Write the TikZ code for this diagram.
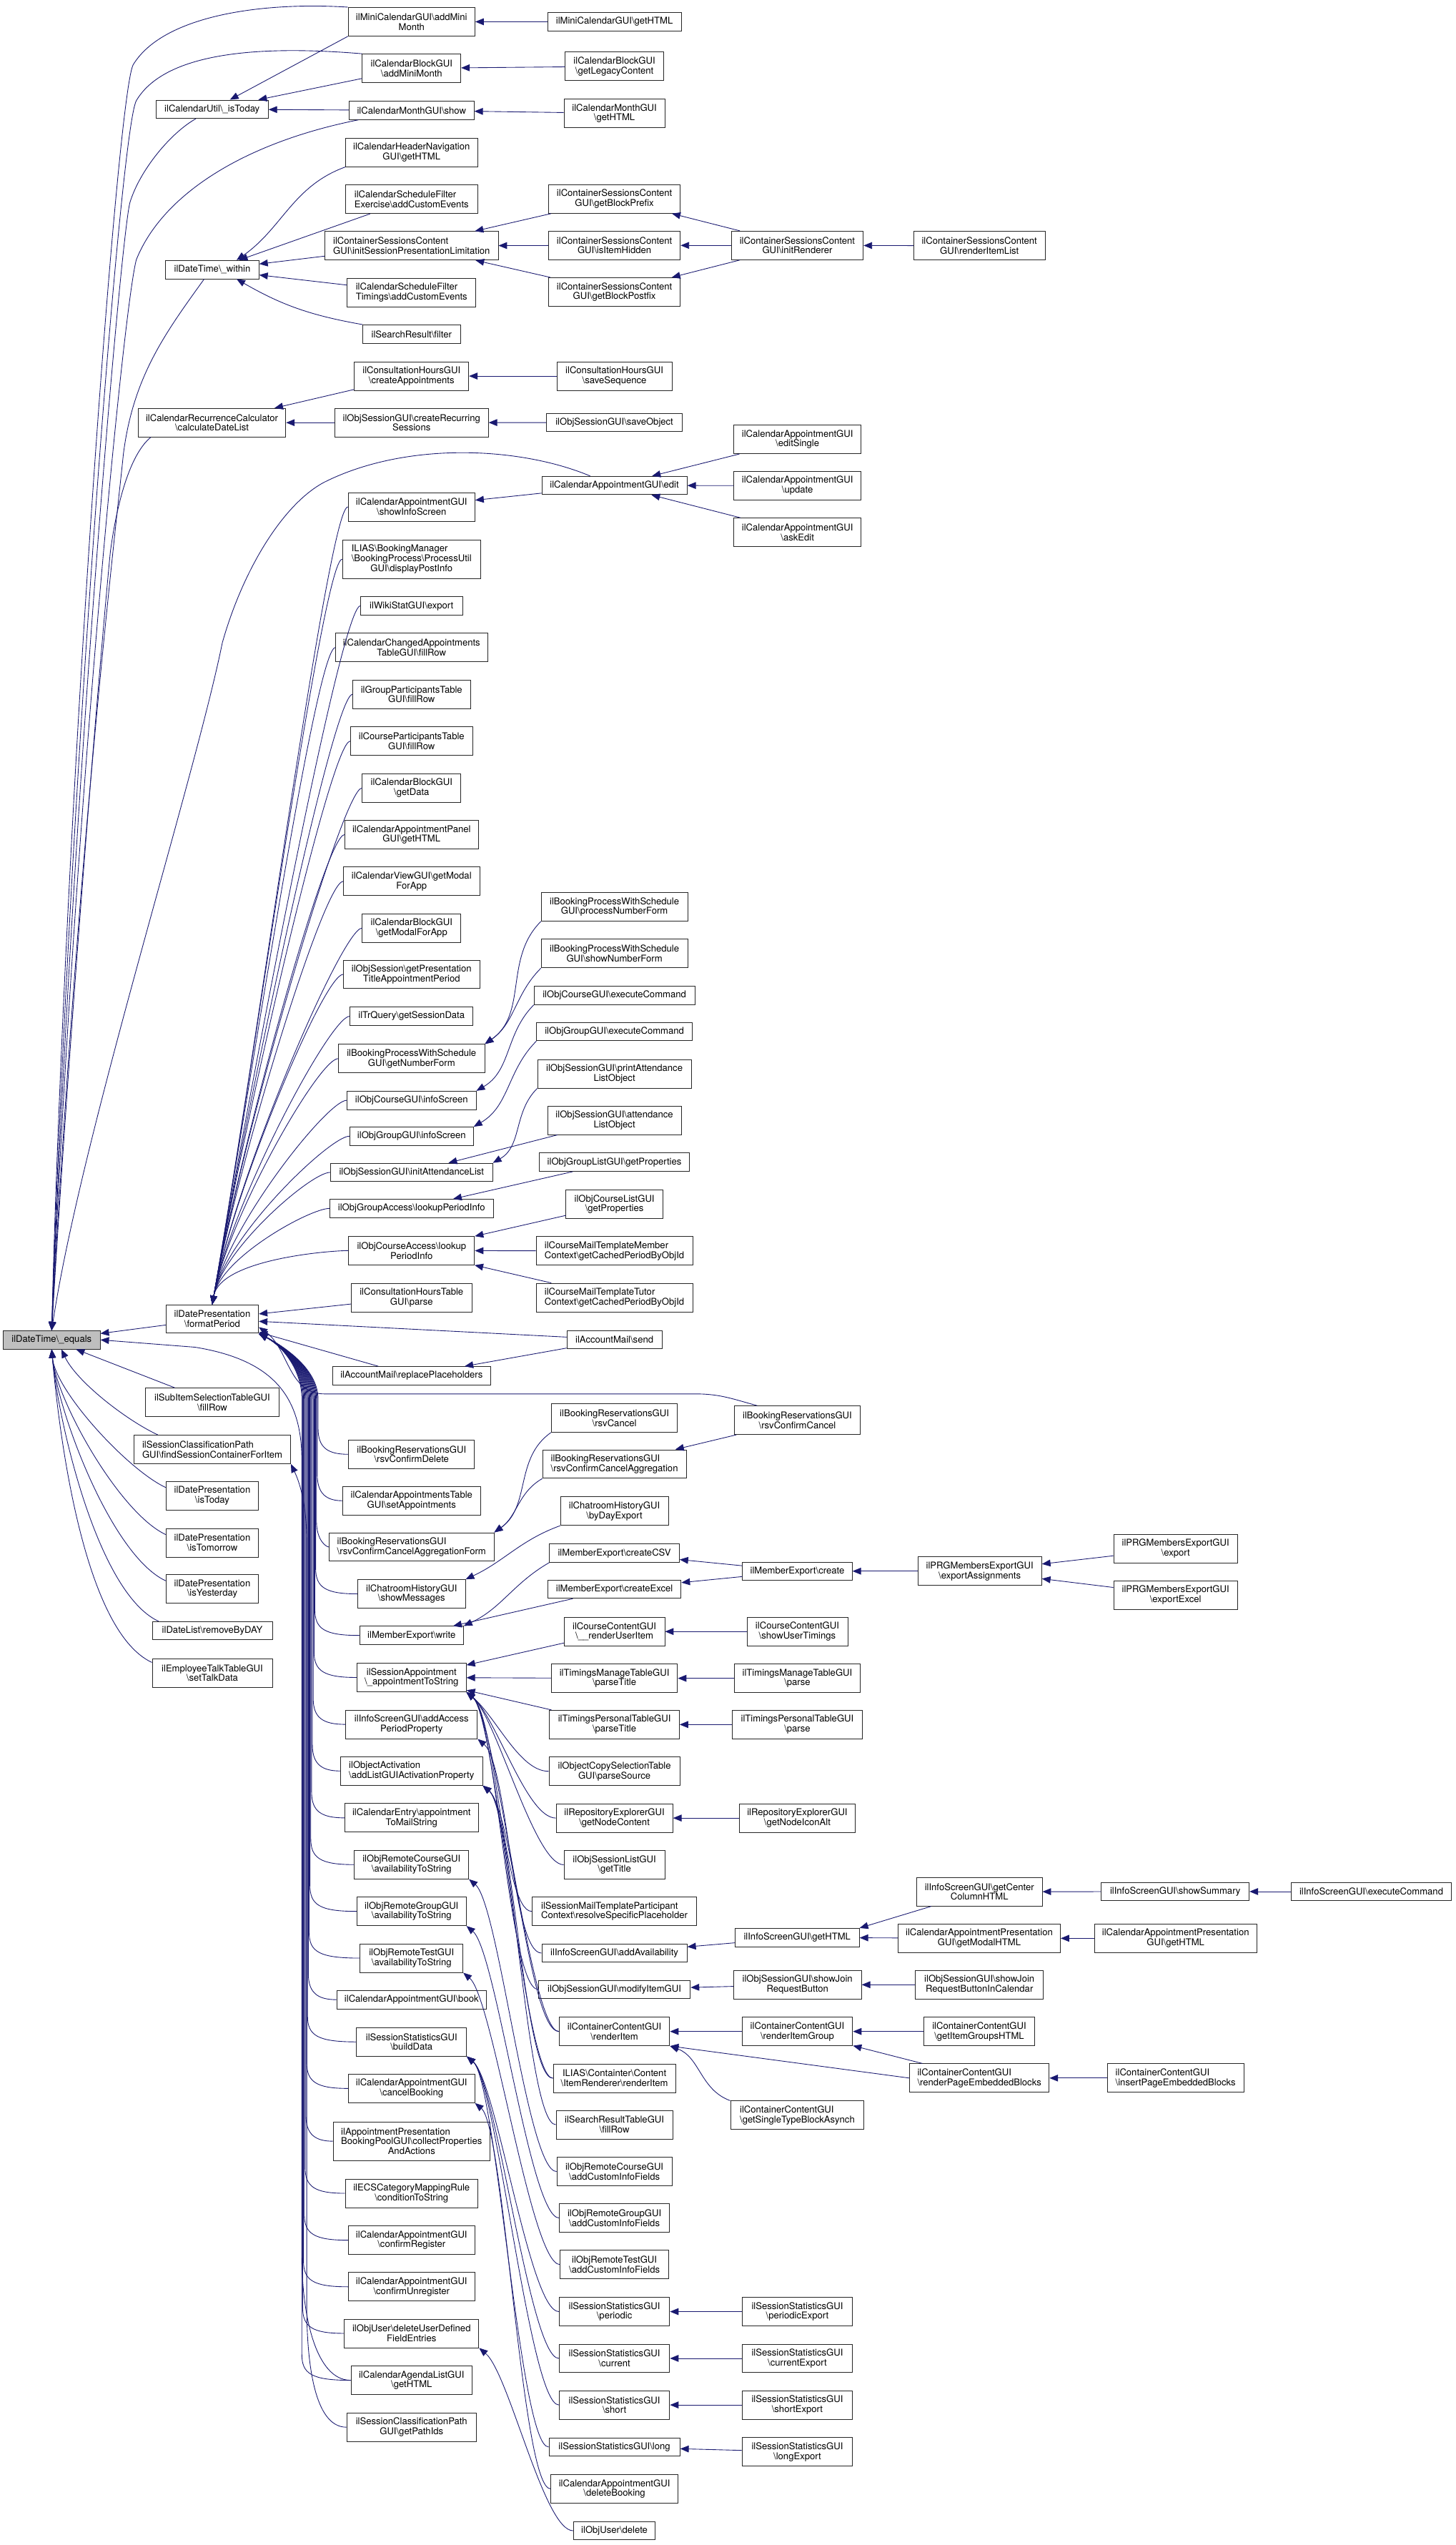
\documentclass[tikz,border=0pt]{standalone}
\usepackage{fontspec}
\setmainfont{TeX Gyre Heros}
\usetikzlibrary{arrows.meta}
\definecolor{EdgeNavy}{HTML}{191970}
\definecolor{RootGray}{HTML}{BFBFBF}
\newcommand{\bs}{\textbackslash}
\newcommand{\lft}[2]{\rlap{#1}\phantom{#2}}

\begin{document}
\begin{tikzpicture}[x=0.05cm, y=0.05cm,
    fn/.style={draw=black!85, line width=0.55pt, fill=white, inner sep=0pt,
               minimum height=0.565cm, align=center,
               font=\fontsize{8.2}{8.6}\selectfont},
    two/.style={minimum height=0.88cm},
    three/.style={minimum height=1.195cm},
    lf/.style={align=left},
    wd/.style={minimum width=#1*0.05cm},
    cl/.style={draw=EdgeNavy, line width=0.55pt, -{Triangle[length=7.5pt,width=6pt]}},
    fpdown/.style={out=180, in=80, out distance=0.6cm, in looseness=0.8},
    climb/.style={out=180, in=-40, out distance=0.9cm, in distance=1.2cm},
  ]
  \useasboundingbox (0,0) rectangle (897,-1568);

  % the called function
  \node[fn, wd=59.7, fill=RootGray] (eq) at (31.85,-825.5) {ilDateTime\bs\_equals};

  % direct callers
  \node[fn, wd=69.2] (cutoday) at (130.7,-67.3) {ilCalendarUtil\bs\_isToday};
  \node[fn, wd=57.5] (within) at (130.8,-166.1) {ilDateTime\bs\_within};
  \node[fn, two, wd=91] (calc) at (130.6,-260.4) {ilCalendarRecurrenceCalculator\\\bs calculateDateList};
  \node[fn, two, wd=57] (fp) at (130.8,-812.6) {ilDatePresentation\\\bs formatPeriod};
  \node[fn, two, wd=82.3] (subitem) at (130.8,-864) {ilSubItemSelectionTableGUI\\\bs fillRow};
  \node[fn, two, lf, wd=96.5] (findsess) at (130.8,-893) {ilSessionClassificationPath\\GUI\bs findSessionContainerForItem};
  \node[fn, two, wd=57] (dptoday) at (130.8,-921.5) {ilDatePresentation\\\bs isToday};
  \node[fn, two, wd=57] (dptomorrow) at (130.8,-950.5) {ilDatePresentation\\\bs isTomorrow};
  \node[fn, two, wd=57] (dpyesterday) at (130.8,-979) {ilDatePresentation\\\bs isYesterday};
  \node[fn, wd=74] (removeday) at (130.8,-1004.7) {ilDateList\bs removeByDAY};
  \node[fn, two, wd=74] (talkdata) at (130.8,-1030.8) {ilEmployeeTalkTableGUI\\\bs setTalkData};

  % second level
  \node[fn, two, wd=78.1] (miniadd) at (253.6,-13.4) {ilMiniCalendarGUI\bs addMini\\Month};
  \node[fn, two, wd=60.7] (blockadd) at (253.6,-42.1) {ilCalendarBlockGUI\\\bs addMiniMonth};
  \node[fn, wd=77] (monthshow) at (253.6,-68) {ilCalendarMonthGUI\bs show};
  \node[fn, two, wd=81.3] (headnav) at (253.6,-93.9) {ilCalendarHeaderNavigation\\GUI\bs getHTML};
  \node[fn, two, lf, wd=81.7] (filterex) at (253.6,-122.7) {ilCalendarScheduleFilter\\Exercise\bs addCustomEvents};
  \node[fn, two, lf, wd=106.8] (initsess) at (253.6,-151.4) {ilContainerSessionsContent\\GUI\bs initSessionPresentationLimitation};
  \node[fn, two, lf, wd=79.3] (filtertim) at (253.6,-180.2) {ilCalendarScheduleFilter\\Timings\bs addCustomEvents};
  \node[fn, wd=60.1] (searchfilter) at (253.6,-205.8) {ilSearchResult\bs filter};
  \node[fn, two, wd=70.4] (consappt) at (253.6,-231.7) {ilConsultationHoursGUI\\\bs createAppointments};
  \node[fn, two, wd=94.6] (recurring) at (253.6,-260.4) {ilObjSessionGUI\bs createRecurring\\Sessions};
  \node[fn, two, wd=78.1] (showinfo) at (253.6,-312.3) {ilCalendarAppointmentGUI\\\bs showInfoScreen};
  \node[fn, three, wd=85.1] (postinfo) at (253.6,-344.5) {\lft{ILIAS\bs BookingManager}{\bs BookingProcess\bs ProcessUtil}\\\bs BookingProcess\bs ProcessUtil\\GUI\bs displayPostInfo};
  \node[fn, wd=62.7] (wikistat) at (253.6,-373.3) {ilWikiStatGUI\bs export};
  \node[fn, two, wd=93.6] (changedfill) at (253.6,-399) {ilCalendarChangedAppointments\\TableGUI\bs fillRow};
  \node[fn, two, wd=72.4] (groupfill) at (253.6,-427.8) {ilGroupParticipantsTable\\GUI\bs fillRow};
  \node[fn, two, wd=75.2] (coursefill) at (253.6,-456.6) {ilCourseParticipantsTable\\GUI\bs fillRow};
  \node[fn, two, wd=60.7] (blockdata) at (253.6,-485.5) {ilCalendarBlockGUI\\\bs getData};
  \node[fn, two, wd=82.1] (panelhtml) at (253.6,-514.2) {ilCalendarAppointmentPanel\\GUI\bs getHTML};
  \node[fn, two, wd=83.9] (viewmodal) at (253.6,-543) {ilCalendarViewGUI\bs getModal\\ForApp};
  \node[fn, two, wd=60.7] (blockmodal) at (253.6,-571.8) {ilCalendarBlockGUI\\\bs getModalForApp};
  \node[fn, two, wd=83.9] (presentperiod) at (253.6,-600.3) {ilObjSession\bs getPresentation\\TitleAppointmentPeriod};
  \node[fn, wd=75.8] (sessiondata) at (253.6,-626.1) {ilTrQuery\bs getSessionData};
  \node[fn, two, wd=90] (numberform) at (253.6,-652.2) {ilBookingProcessWithSchedule\\GUI\bs getNumberForm};
  \node[fn, wd=79.5] (crsinfo) at (253.6,-677.9) {ilObjCourseGUI\bs infoScreen};
  \node[fn, wd=76.2] (grpinfo) at (253.6,-700) {ilObjGroupGUI\bs infoScreen};
  \node[fn, wd=99.9] (attlist) at (253.6,-722.3) {ilObjSessionGUI\bs initAttendanceList};
  \node[fn, wd=100.7] (grplookup) at (253.6,-744.5) {ilObjGroupAccess\bs lookupPeriodInfo};
  \node[fn, two, wd=77.6] (crslookup) at (253.6,-770.5) {ilObjCourseAccess\bs lookup\\PeriodInfo};
  \node[fn, two, wd=74.2] (constable) at (253.6,-799.4) {ilConsultationHoursTable\\GUI\bs parse};
  \node[fn, wd=97.3] (replaceph) at (253.6,-847.6) {ilAccountMail\bs replacePlaceholders};
  \node[fn, two, wd=77.6] (rsvdelete) at (253.6,-896) {ilBookingReservationsGUI\\\bs rsvConfirmDelete};
  \node[fn, two, wd=84.9] (setappts) at (253.6,-924.6) {ilCalendarAppointmentsTable\\GUI\bs setAppointments};
  \node[fn, two, lf, wd=101.5] (rsvaggform) at (253.6,-953.1) {ilBookingReservationsGUI\\\bs rsvConfirmCancelAggregationForm};
  \node[fn, two, wd=66.3] (showmsgs) at (253.6,-982) {ilChatroomHistoryGUI\\\bs showMessages};
  \node[fn, wd=63.9] (mewrite) at (253.6,-1007.6) {ilMemberExport\bs write};
  \node[fn, two, wd=67.3] (apptstr) at (253.6,-1033.5) {ilSessionAppointment\\\bs\_appointmentToString};
  \node[fn, two, wd=81.1] (accessperiod) at (253.6,-1062.4) {ilInfoScreenGUI\bs addAccess\\PeriodProperty};
  \node[fn, two, lf, wd=87.4] (activation) at (253.6,-1091.1) {ilObjectActivation\\\bs addListGUIActivationProperty};
  \node[fn, two, wd=82.1] (mailstring) at (253.6,-1120) {ilCalendarEntry\bs appointment\\ToMailString};
  \node[fn, two, wd=70.4] (rcrsavail) at (253.6,-1148.8) {ilObjRemoteCourseGUI\\\bs availabilityToString};
  \node[fn, two, wd=67.3] (rgrpavail) at (253.6,-1177.6) {ilObjRemoteGroupGUI\\\bs availabilityToString};
  \node[fn, two, wd=63.3] (rtstavail) at (253.6,-1206.4) {ilObjRemoteTestGUI\\\bs availabilityToString};
  \node[fn, wd=92.2] (book) at (253.6,-1232) {ilCalendarAppointmentGUI\bs book};
  \node[fn, two, wd=67.7] (builddata) at (253.6,-1258) {ilSessionStatisticsGUI\\\bs buildData};
  \node[fn, two, wd=77.8] (cancelbook) at (253.6,-1286.7) {ilCalendarAppointmentGUI\\\bs cancelBooking};
  \node[fn, three, wd=96.7] (collectprops) at (253.6,-1319.2) {\lft{ilAppointmentPresentation}{BookingPoolGUI\bs collectProperties}\\BookingPoolGUI\bs collectProperties\\AndActions};
  \node[fn, two, wd=81.7] (condstring) at (253.6,-1351.3) {ilECSCategoryMappingRule\\\bs conditionToString};
  \node[fn, two, wd=77.8] (confreg) at (253.6,-1380.2) {ilCalendarAppointmentGUI\\\bs confirmRegister};
  \node[fn, two, wd=77.8] (confunreg) at (253.6,-1408.9) {ilCalendarAppointmentGUI\\\bs confirmUnregister};
  \node[fn, two, wd=82.9] (deludf) at (253.6,-1437.6) {ilObjUser\bs deleteUserDefined\\FieldEntries};
  \node[fn, two, wd=74.6] (agendahtml) at (253.6,-1466.5) {ilCalendarAgendaListGUI\\\bs getHTML};
  \node[fn, two, wd=79.9] (pathids) at (253.6,-1495.4) {ilSessionClassificationPath\\GUI\bs getPathIds};

  % third level
  \node[fn, wd=82.3] (minihtml) at (378.6,-13.4) {ilMiniCalendarGUI\bs getHTML};
  \node[fn, two, wd=60.6] (legacy) at (378.6,-40.9) {ilCalendarBlockGUI\\\bs getLegacyContent};
  \node[fn, two, wd=62.1] (monthhtml) at (378.6,-69.8) {ilCalendarMonthGUI\\\bs getHTML};
  \node[fn, two, wd=81.2] (blockprefix) at (378.6,-122.6) {ilContainerSessionsContent\\GUI\bs getBlockPrefix};
  \node[fn, two, wd=81.2] (itemhidden) at (378.6,-151.2) {ilContainerSessionsContent\\GUI\bs isItemHidden};
  \node[fn, two, wd=81.2] (blockpostfix) at (378.6,-179.9) {ilContainerSessionsContent\\GUI\bs getBlockPostfix};
  \node[fn, two, wd=70.8] (savesequence) at (378.6,-231.7) {ilConsultationHoursGUI\\\bs saveSequence};
  \node[fn, wd=83.7] (saveobject) at (378.6,-260.3) {ilObjSessionGUI\bs saveObject};
  \node[fn, wd=89.5] (edit) at (378.6,-299.1) {ilCalendarAppointmentGUI\bs edit};
  \node[fn, two, wd=90.2] (processnum) at (378.6,-558.7) {ilBookingProcessWithSchedule\\GUI\bs processNumberForm};
  \node[fn, two, wd=90.2] (shownum) at (378.6,-587.5) {ilBookingProcessWithSchedule\\GUI\bs showNumberForm};
  \node[fn, wd=99] (crsexec) at (378.6,-613.3) {ilObjCourseGUI\bs executeCommand};
  \node[fn, wd=95.8] (grpexec) at (378.6,-635.6) {ilObjGroupGUI\bs executeCommand};
  \node[fn, two, wd=94.8] (printatt) at (378.6,-661.6) {ilObjSessionGUI\bs printAttendance\\ListObject};
  \node[fn, two, wd=82.4] (attobj) at (378.6,-690.2) {ilObjSessionGUI\bs attendance\\ListObject};
  \node[fn, wd=92.6] (grpprops) at (378.6,-716) {ilObjGroupListGUI\bs getProperties};
  \node[fn, two, wd=59.6] (crsprops) at (378.6,-742) {ilObjCourseListGUI\\\bs getProperties};
  \node[fn, two, lf, wd=96.4] (membercached) at (378.6,-770.7) {ilCourseMailTemplateMember\\Context\bs getCachedPeriodByObjId};
  \node[fn, two, lf, wd=96.4] (tutorcached) at (378.6,-799.4) {ilCourseMailTemplateTutor\\Context\bs getCachedPeriodByObjId};
  \node[fn, wd=58.5] (mailsend) at (378.6,-825.3) {ilAccountMail\bs send};
  \node[fn, two, wd=77.8] (rsvcancel) at (378.6,-873.6) {ilBookingReservationsGUI\\\bs rsvCancel};
  \node[fn, two, lf, wd=88.6] (rsvagg) at (378.6,-902) {ilBookingReservationsGUI\\\bs rsvConfirmCancelAggregation};
  \node[fn, two, wd=66.5] (bydayexport) at (378.6,-931) {ilChatroomHistoryGUI\\\bs byDayExport};
  \node[fn, wd=80] (createcsv) at (378.6,-956.9) {ilMemberExport\bs createCSV};
  \node[fn, wd=82.2] (createexcel) at (378.6,-979.1) {ilMemberExport\bs createExcel};
  \node[fn, two, wd=62] (useritem) at (378.6,-1005.2) {ilCourseContentGUI\\\bs\_\_renderUserItem};
  \node[fn, two, wd=77.8] (tmparsetitle) at (378.6,-1034) {ilTimingsManageTableGUI\\\bs parseTitle};
  \node[fn, two, wd=80] (tpparsetitle) at (378.6,-1062.5) {ilTimingsPersonalTableGUI\\\bs parseTitle};
  \node[fn, two, wd=80.7] (parsesource) at (378.6,-1091.3) {ilObjectCopySelectionTable\\GUI\bs parseSource};
  \node[fn, two, wd=71.9] (nodecontent) at (378.6,-1120.1) {ilRepositoryExplorerGUI\\\bs getNodeContent};
  \node[fn, two, wd=62.1] (sesstitle) at (378.6,-1148.9) {ilObjSessionListGUI\\\bs getTitle};
  \node[fn, two, lf, wd=101.5] (resolveph) at (378.6,-1177.6) {ilSessionMailTemplateParticipant\\Context\bs resolveSpecificPlaceholder};
  \node[fn, wd=89.5] (addavail) at (378.6,-1203.3) {ilInfoScreenGUI\bs addAvailability};
  \node[fn, wd=93.6] (modifyitem) at (378.6,-1225.7) {ilObjSessionGUI\bs modifyItemGUI};
  \node[fn, two, wd=68.1] (renderitem) at (378.6,-1251.6) {ilContainerContentGUI\\\bs renderItem};
  \node[fn, two, wd=75.4] (irrender) at (378.6,-1280.4) {ILIAS\bs Containter\bs Content\\\bs ItemRenderer\bs renderItem};
  \node[fn, two, wd=71.9] (srfillrow) at (378.6,-1309) {ilSearchResultTableGUI\\\bs fillRow};
  \node[fn, two, wd=70.9] (rcrsfields) at (378.6,-1337.9) {ilObjRemoteCourseGUI\\\bs addCustomInfoFields};
  \node[fn, two, wd=67.8] (rgrpfields) at (378.6,-1366.5) {ilObjRemoteGroupGUI\\\bs addCustomInfoFields};
  \node[fn, two, wd=66.7] (rtstfields) at (378.6,-1395.2) {ilObjRemoteTestGUI\\\bs addCustomInfoFields};
  \node[fn, two, wd=68.1] (periodic) at (378.6,-1424.2) {ilSessionStatisticsGUI\\\bs periodic};
  \node[fn, two, wd=68.1] (current) at (378.6,-1453) {ilSessionStatisticsGUI\\\bs current};
  \node[fn, two, wd=68.1] (short) at (378.6,-1481.7) {ilSessionStatisticsGUI\\\bs short};
  \node[fn, wd=80.7] (long) at (378.6,-1507.6) {ilSessionStatisticsGUI\bs long};
  \node[fn, two, wd=78.3] (delbooking) at (378.6,-1533.4) {ilCalendarAppointmentGUI\\\bs deleteBooking};
  \node[fn, wd=50.5] (userdelete) at (378.6,-1559.2) {ilObjUser\bs delete};

  % fourth level
  \node[fn, two, wd=81.3] (initrenderer) at (491.3,-151.2) {ilContainerSessionsContent\\GUI\bs initRenderer};
  \node[fn, two, wd=78.3] (editsingle) at (491.4,-270.7) {ilCalendarAppointmentGUI\\\bs editSingle};
  \node[fn, two, wd=78.3] (update) at (491.4,-299.2) {ilCalendarAppointmentGUI\\\bs update};
  \node[fn, two, wd=78.3] (askedit) at (491.4,-328) {ilCalendarAppointmentGUI\\\bs askEdit};
  \node[fn, two, wd=77.7] (rsvconfcancel) at (491.3,-875) {ilBookingReservationsGUI\\\bs rsvConfirmCancel};
  \node[fn, wd=67.6] (mecreate) at (491.3,-968) {ilMemberExport\bs create};
  \node[fn, two, wd=62.1] (timings) at (491.3,-1005.2) {ilCourseContentGUI\\\bs showUserTimings};
  \node[fn, two, wd=77.7] (tmparse) at (491.3,-1034) {ilTimingsManageTableGUI\\\bs parse};
  \node[fn, two, wd=80.2] (tpparse) at (491.3,-1062.5) {ilTimingsPersonalTableGUI\\\bs parse};
  \node[fn, two, wd=71.7] (iconalt) at (491.3,-1120.1) {ilRepositoryExplorerGUI\\\bs getNodeIconAlt};
  \node[fn, wd=76.6] (ishtml) at (491.2,-1193.7) {ilInfoScreenGUI\bs getHTML};
  \node[fn, two, wd=78.8] (joinbutton) at (491.4,-1222.8) {ilObjSessionGUI\bs showJoin\\RequestButton};
  \node[fn, two, wd=68.2] (itemgroup) at (491.3,-1251.6) {ilContainerContentGUI\\\bs renderItemGroup};
  \node[fn, two, lf, wd=82.3] (asynch) at (491.3,-1303.2) {ilContainerContentGUI\\\bs getSingleTypeBlockAsynch};
  \node[fn, two, wd=68.2] (periodicexp) at (491.3,-1424.2) {ilSessionStatisticsGUI\\\bs periodicExport};
  \node[fn, two, wd=68.2] (currentexp) at (491.3,-1453) {ilSessionStatisticsGUI\\\bs currentExport};
  \node[fn, two, wd=68.2] (shortexp) at (491.3,-1481.7) {ilSessionStatisticsGUI\\\bs shortExport};
  \node[fn, two, wd=68.2] (longexp) at (491.3,-1510.6) {ilSessionStatisticsGUI\\\bs longExport};

  % outer levels
  \node[fn, two, wd=81] (renderlist) at (603.5,-151.4) {ilContainerSessionsContent\\GUI\bs renderItemList};
  \node[fn, two, wd=76.3] (exportassign) at (603.7,-968) {ilPRGMembersExportGUI\\\bs exportAssignments};
  \node[fn, two, wd=77.4] (centercol) at (603.5,-1165.5) {ilInfoScreenGUI\bs getCenter\\ColumnHTML};
  \node[fn, two, wd=100] (modalhtml) at (603.4,-1194.2) {ilCalendarAppointmentPresentation\\GUI\bs getModalHTML};
  \node[fn, two, wd=79] (joincal) at (603.5,-1222.8) {ilObjSessionGUI\bs showJoin\\RequestButtonInCalendar};
  \node[fn, two, wd=68.2] (itemgroupshtml) at (603.4,-1251.6) {ilContainerContentGUI\\\bs getItemGroupsHTML};
  \node[fn, two, lf, wd=86] (embedded) at (603.5,-1280.3) {ilContainerContentGUI\\\bs renderPageEmbeddedBlocks};
  \node[fn, two, wd=76.3] (prgexport) at (724.4,-954.1) {ilPRGMembersExportGUI\\\bs export};
  \node[fn, two, wd=76.3] (prgexcel) at (724.4,-982.7) {ilPRGMembersExportGUI\\\bs exportExcel};
  \node[fn, wd=91.1] (summary) at (724.2,-1165.4) {ilInfoScreenGUI\bs showSummary};
  \node[fn, two, wd=99.8] (presenthtml) at (724.4,-1194.2) {ilCalendarAppointmentPresentation\\GUI\bs getHTML};
  \node[fn, two, lf, wd=84.1] (insertembedded) at (724.4,-1280.3) {ilContainerContentGUI\\\bs insertPageEmbeddedBlocks};
  \node[fn, wd=99] (isexec) at (845,-1165.4) {ilInfoScreenGUI\bs executeCommand};

  % straight calls
  \foreach \src/\dst in {minihtml/miniadd, legacy/blockadd, monthhtml/monthshow,
      blockadd/cutoday, monthshow/cutoday, filterex/within, initsess/within,
      filtertim/within, consappt/calc, recurring/calc,
      blockprefix/initsess, itemhidden/initsess, blockpostfix/initsess,
      initrenderer/blockprefix, initrenderer/itemhidden, initrenderer/blockpostfix,
      renderlist/initrenderer, savesequence/consappt, saveobject/recurring,
      edit/showinfo, editsingle/edit, update/edit, askedit/edit,
      attobj/attlist, grpprops/grplookup, crsprops/crslookup,
      membercached/crslookup, tutorcached/crslookup,
      constable/fp, mailsend/fp, mailsend/replaceph, replaceph/fp, fp/eq, subitem/eq,
      rsvconfcancel/rsvagg, createexcel/mewrite, mecreate/createcsv, mecreate/createexcel,
      exportassign/mecreate, prgexport/exportassign, prgexcel/exportassign,
      useritem/apptstr, tmparsetitle/apptstr, tpparsetitle/apptstr,
      timings/useritem, tmparse/tmparsetitle, tpparse/tpparsetitle, iconalt/nodecontent,
      ishtml/addavail, modalhtml/ishtml, summary/centercol, isexec/summary,
      presenthtml/modalhtml, joinbutton/modifyitem, joincal/joinbutton,
      itemgroup/renderitem, itemgroupshtml/itemgroup, embedded/itemgroup,
      insertembedded/embedded, periodicexp/periodic, currentexp/current,
      shortexp/short, longexp/long}
    \draw[cl] (\src) -- (\dst);
  \draw[cl] (centercol) -- (ishtml.north east);
  \draw[cl] (embedded.west) -- (renderitem.south east);
  \draw[cl] (asynch.north west) to[out=160,in=-20] (renderitem.south east);
  \draw[cl] (miniadd.south west) -- ([xshift=0.55cm]cutoday.north);
  \draw[cl] (headnav.south west) to[out=200,in=35] ([xshift=0.75cm]within.north);
  \draw[cl] (searchfilter.north west) to[out=170,in=-30] ([xshift=0.75cm]within.south);

  % into ilDateTime::_equals from above
  \draw[cl] (miniadd.north west) .. controls (160,-1) and (100,-10) .. (82,-40)
            .. controls (72,-60) and (40,-500) .. (eq.north);
  \draw[cl] (blockadd.north west) .. controls (150,-27) and (100,-35) .. (84,-62)
            .. controls (74,-80) and (42,-500) .. (eq.north);
  \draw[cl] ([xshift=-0.5cm]cutoday.south) .. controls (105,-82) and (86,-105) .. (80,-125)
            .. controls (74,-150) and (44,-500) .. (eq.north);
  \draw[cl] ([xshift=0.3cm]monthshow.south west) .. controls (150,-88) and (100,-120) .. (84,-160)
            .. controls (76,-190) and (46,-500) .. (eq.north);
  \draw[cl] ([xshift=-0.25cm]within.south) .. controls (102,-205) and (82,-232) .. (76,-280)
            .. controls (72,-320) and (48,-520) .. (eq.north);
  \draw[cl] ([xshift=0.4cm]calc.south west) .. controls (80,-280) and (72,-310) .. (68,-340)
            .. controls (64,-380) and (45,-600) .. (eq.north);
  \draw[cl] ([xshift=1.5cm]edit.north west) .. controls (320,-275) and (250,-272) .. (200,-297)
            .. controls (175,-310) and (150,-350) .. (137,-396)
            .. controls (120,-480) and (50,-700) .. (eq.north);

  % into ilDateTime::_equals from below
  \foreach \src in {dptoday,dptomorrow,dpyesterday,removeday,talkdata}
    \draw[cl] (\src.170) to[out=155,in=-85,looseness=0.6] (eq.south);
  \draw[cl] (findsess.165) to[out=155,in=-65,looseness=0.7] ([xshift=0.3cm]eq.south);
  \draw[cl] (agendahtml.west) .. controls +(-22,0) and (186,-1425) .. (186,-1390)
            -- (186,-900) .. controls (186,-862) and (170,-838) .. (120,-830) -- (eq.east);
  \draw[cl] (pathids.west) .. controls +(-20,0) and (189,-1455) .. (189,-1420)
            -- (189,-950) .. controls (189,-925) and (184,-912) .. (findsess.south east);

  % into ilDatePresentation::formatPeriod
  \foreach \src in {showinfo,postinfo,wikistat,changedfill,groupfill,coursefill,
      blockdata,panelhtml,viewmodal,blockmodal,presentperiod,sessiondata,
      numberform,crsinfo,grpinfo,attlist,grplookup,crslookup}
    \draw[cl] (\src) to[fpdown] (fp.north);
  \foreach \src/\y/\c in {rsvdelete/896/196, setappts/924.6/195.5, rsvaggform/953.1/195,
      showmsgs/982/194.5, mewrite/1007.6/194, apptstr/1033.5/193.5,
      accessperiod/1062.4/193, activation/1091.1/192.5, mailstring/1120/192,
      rcrsavail/1148.8/191.5, rgrpavail/1177.6/191, rtstavail/1206.4/190.5,
      book/1232/190, builddata/1258/189.5, cancelbook/1286.7/189,
      collectprops/1319.2/188.5, condstring/1351.3/188, confreg/1380.2/187.5,
      confunreg/1408.9/187, deludf/1437.6/186.5, agendahtml/1466.5/186}
    \draw[cl] (\src.west) .. controls (\c+6,-\y) and (\c,-\y+4) .. (\c,-\y+16)
              -- (\c,-862) .. controls (\c,-842) and (172,-828) .. (fp.south east);
  \draw[cl] (rsvconfcancel.160) to[out=165,in=0] (429,-858.8) -- (200,-858.8)
            to[out=180,in=-35] (fp.-10);

  % curving down to the left
  \foreach \src/\dst/\o/\i in {processnum/numberform/225/35, shownum/numberform/225/35,
      crsexec/crsinfo/225/30, grpexec/grpinfo/225/30, printatt/attlist/225/30,
      rsvcancel/rsvaggform/215/35, rsvagg/rsvaggform/210/35,
      bydayexport/showmsgs/200/25, createcsv/mewrite/210/25}
    \draw[cl] (\src.south west) to[out=\o,in=\i] (\dst.north east);

  % curving up to the left
  \foreach \src/\dst in {parsesource/apptstr, nodecontent/apptstr, sesstitle/apptstr,
      resolveph/apptstr, modifyitem/apptstr, renderitem/apptstr, irrender/apptstr,
      renderitem/activation, irrender/activation, srfillrow/activation,
      addavail/accessperiod, rcrsfields/rcrsavail, rgrpfields/rgrpavail,
      rtstfields/rtstavail, periodic/builddata, current/builddata, short/builddata,
      long/builddata, delbooking/cancelbook, userdelete/deludf}
    \draw[cl] (\src) to[climb] (\dst.south east);
\end{tikzpicture}
\end{document}
